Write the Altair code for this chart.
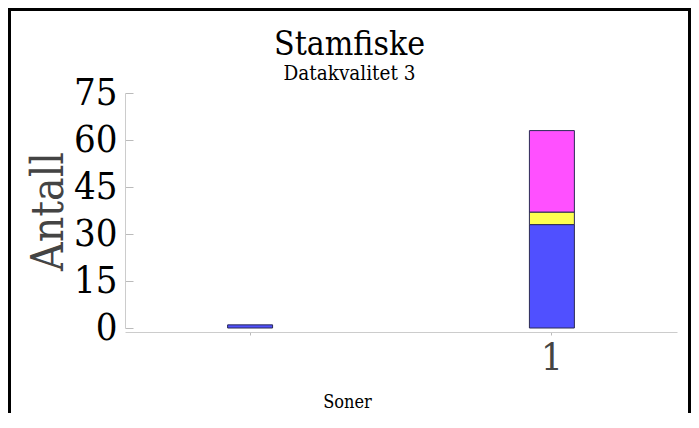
import altair as alt
import pandas as pd

# ---- data ----
soner = [" ", "1"]
serier = ["Laks", "Sjøørret", "Pukkellaks"]
farger = ["#5050FF", "#FFFF50", "#FF50FF"]
laks = [1, 33]
sjoorret = [0, 4]
pukkellaks = [0, 26]
y_ticks = [0, 15, 30, 45, 60, 75]
tittel = "Stamfiske"
undertittel = "Datakvalitet 3"

rows = []
for i, s in enumerate(soner):
    for j, (navn, vals) in enumerate(zip(serier, [laks, sjoorret, pukkellaks])):
        if vals[i] > 0:
            rows.append({"Soner": s, "Art": navn, "Antall": vals[i], "rekkefolge": j})
df = pd.DataFrame(rows)

FONT = "DejaVu Serif Condensed, DejaVu Serif, serif"
W, H = 552, 235
PAD = {"left": 117, "top": 85, "right": 14, "bottom": 85}

bars = alt.Chart(df).mark_bar(stroke="#2a2a55", strokeWidth=1).encode(
    x=alt.X(
        "Soner:N",
        sort=soner,
        scale=alt.Scale(paddingInner=0.851, paddingOuter=0.34, align=0.5),
        axis=alt.Axis(
            title="Soner",
            labelAngle=0,
            labelFontSize=38,
            labelColor="#444444",
            labelFont=FONT,
            labelPadding=4,
            tickSize=3,
            tickColor="#bbbbbb",
            domainColor="#cccccc",
            offset=4,
            titleFont=FONT,
            titleFontSize=18,
            titleFontWeight="normal",
            titleColor="#000000",
            titleX=222,
            titleY=75,
            titleBaseline="alphabetic",
            titleAlign="center",
        ),
    ),
    y=alt.Y(
        "Antall:Q",
        stack="zero",
        scale=alt.Scale(domain=[0, 75], nice=False),
        axis=alt.Axis(
            title="Antall",
            values=y_ticks,
            labelFontSize=38,
            labelColor="#000000",
            labelFont=FONT,
            labelPadding=8,
            ticks=False,
            grid=True,
            gridColor="#bbbbbb",
            gridDash=[8, 2000],
            domainColor="#cccccc",
            titleFont=FONT,
            titleFontSize=44,
            titleFontWeight="normal",
            titleColor="#444444",
            titleAngle=270,
            titleX=-63,
            titleY=118,
            titleAlign="center",
            titleBaseline="alphabetic",
        ),
    ),
    color=alt.Color("Art:N", scale=alt.Scale(domain=serier, range=farger), legend=None),
    order=alt.Order("rekkefolge:Q", sort="ascending"),
)

frame_data = alt.Data(values=[{}])
top_rule = alt.Chart(frame_data).mark_rule(color="#000000", strokeWidth=3).encode(
    x=alt.value(-117), x2=alt.value(W + PAD["right"]), y=alt.value(-83.5)
)
left_rule = alt.Chart(frame_data).mark_rule(color="#000000", strokeWidth=3).encode(
    x=alt.value(-115.5), y=alt.value(-85), y2=alt.value(H + PAD["bottom"])
)
right_rule = alt.Chart(frame_data).mark_rule(color="#000000", strokeWidth=3).encode(
    x=alt.value(W + PAD["right"] - 1.5), y=alt.value(-85), y2=alt.value(H + PAD["bottom"])
)

title_text = alt.Chart(alt.Data(values=[{"t": tittel}])).mark_text(
    font=FONT, fontSize=33.5, color="#000000", align="center", baseline="alphabetic"
).encode(text="t:N", x=alt.value(224.5), y=alt.value(-38))

subtitle_text = alt.Chart(alt.Data(values=[{"t": undertittel}])).mark_text(
    font=FONT, fontSize=20.5, color="#000000", align="center", baseline="alphabetic"
).encode(text="t:N", x=alt.value(224.5), y=alt.value(-13))

chart = alt.layer(bars, top_rule, left_rule, right_rule, title_text, subtitle_text).properties(
    width=W,
    height=H,
    padding=PAD,
    autosize=alt.AutoSizeParams(type="none"),
).configure_view(stroke=None)

chart.save("out.html", embed_options={"renderer": "svg", "actions": False})
